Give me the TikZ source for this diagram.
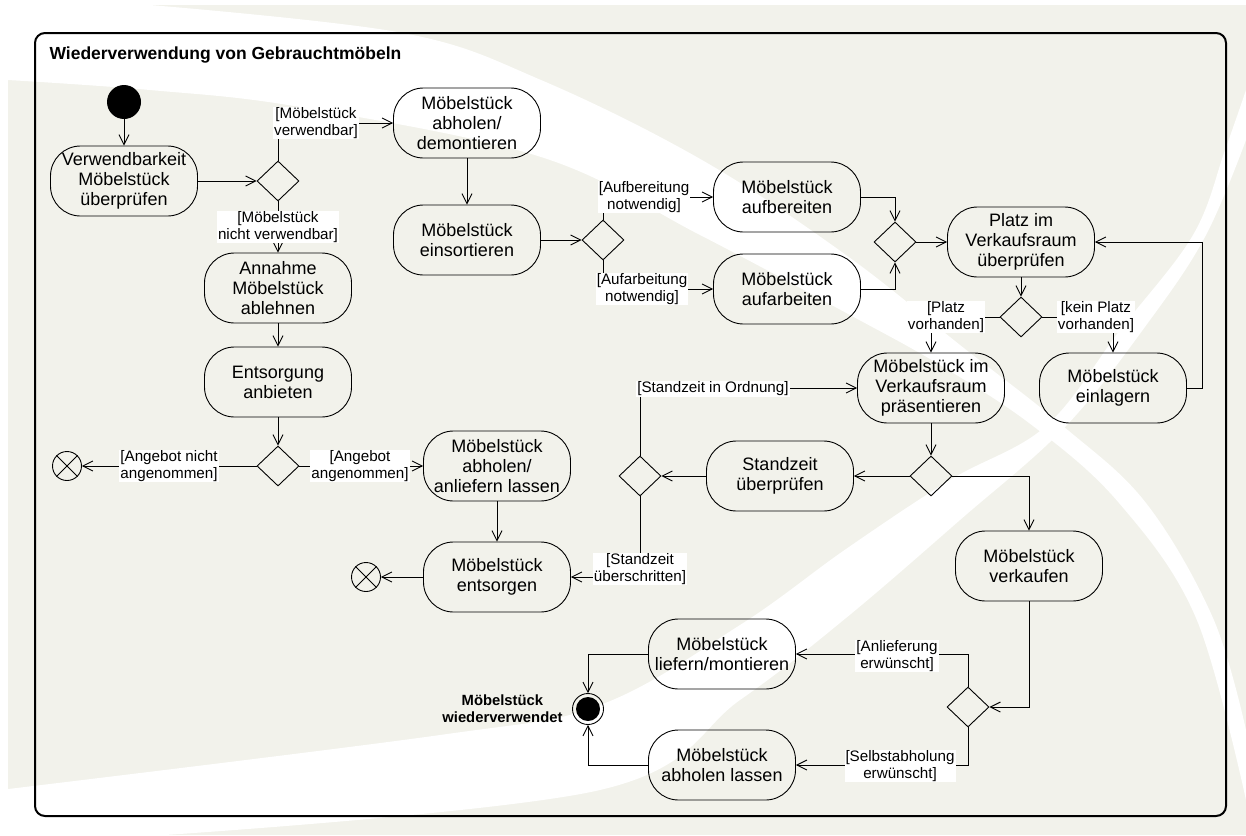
\documentclass[tikz,border=0pt]{standalone}
\usepackage{fontspec}
\setmainfont{Liberation Sans}
\usetikzlibrary{shapes.geometric,arrows.meta}
\definecolor{bgbeige}{RGB}{242,242,235}
\newcommand{\actfont}{\fontsize{18}{20}\selectfont}
\newcommand{\guardfont}{\fontsize{15.2}{16.8}\selectfont}
\begin{document}
\begin{tikzpicture}[x=1pt,y=-1pt,
  act/.style={draw, line width=0.9pt, rounded corners=30pt, minimum width=147pt, minimum height=70pt, inner sep=0pt, align=center, font=\actfont},
  dec/.style={draw, line width=0.9pt, diamond, minimum width=42pt, minimum height=40pt, inner sep=0pt},
  guard/.style={fill=white, inner sep=1pt, align=center, font=\guardfont},
  flow/.style={line width=0.9pt, -{Straight Barb[length=10pt,width=10pt]}},
  flowfinal/.style={draw, line width=0.9pt, circle, minimum size=29pt, inner sep=0pt}
]
% background
\useasboundingbox (0,0) rectangle (1246,835);
\fill[bgbeige] (0,0) rectangle (1246,835);
\fill[white] (0,0) -- (150,0) -- plot[smooth, tension=0.6] coordinates {(150,5) (403,33) (541,80) (702,160) (846,255) (960,345) (1063,426) (1146,503) (1213,618) (1246,730)} -- (1246,800) -- plot[smooth, tension=0.6] coordinates {(1246,800) (1196,618) (1119,503) (1033,426) (940,365) (850,315) (700,235) (541,157) (300,107) (150,90) (8,80)} -- (0,80) -- cycle;
\fill[white] plot[smooth, tension=0.6] coordinates {(0,790) (440,735) (600,705) (740,625) (846,549) (950,480) (1046,426) (1120,330) (1193,235) (1225,150) (1246,90)} -- (1246,140) -- plot[smooth, tension=0.6] coordinates {(1246,140) (1206,235) (1150,320) (1066,426) (960,520) (846,618) (740,700) (600,790) (165,835)} -- (0,835) -- cycle;
\fill[white] (0,0) rectangle (1246,5);
\fill[white] (0,0) rectangle (8,835);
% frame
\draw[line width=2pt, rounded corners=10pt] (35,33) rectangle (1226,816);
\node[anchor=west, font=\fontsize{17.5}{20}\selectfont\bfseries] (title) at (46,55) {Wiederverwendung von Gebrauchtmöbeln};

% nodes
\node[circle, fill=black, minimum size=34pt, inner sep=0pt] (start) at (124,102) {};
\node[act] (a1) at (124,181) {Verwendbarkeit\\Möbelstück\\überprüfen};
\node[dec] (d1) at (278,181) {};
\node[act] (a2) at (467,123) {Möbelstück\\abholen/\\demontieren};
\node[act] (a3) at (467,240) {Möbelstück\\einsortieren};
\node[dec] (d2) at (603,240) {};
\node[act] (a4) at (787,197) {Möbelstück\\aufbereiten};
\node[act] (a5) at (787,289) {Möbelstück\\aufarbeiten};
\node[dec] (d3) at (895,242) {};
\node[act] (a6) at (1021,242) {Platz im\\Verkaufsraum\\überprüfen};
\node[dec] (d4) at (1021,317) {};
\node[act] (a7) at (931,388) {Möbelstück im\\Verkaufsraum\\präsentieren};
\node[act] (a8) at (1113,388) {Möbelstück\\einlagern};
\coordinate (c8) at (1202,388);
\node[dec] (d5) at (931,476) {};
\node[act] (a9) at (780,476) {Standzeit\\überprüfen};
\node[dec] (d6) at (640,476) {};
\node[act] (a12) at (278,288) {Annahme\\Möbelstück\\ablehnen};
\node[act] (a13) at (278,382) {Entsorgung\\anbieten};
\node[dec] (d7) at (278,466) {};
\node[flowfinal] (ff1) at (67,466) {};
\node[act] (a11) at (497,466) {Möbelstück\\abholen/\\anliefern lassen};
\node[act] (a10) at (497,577) {Möbelstück\\entsorgen};
\node[flowfinal] (ff2) at (366,577) {};
\node[act] (a14) at (1029,566) {Möbelstück\\verkaufen};
\node[dec] (d8) at (968,707) {};
\node[act] (a15) at (722,654) {Möbelstück\\liefern/montieren};
\node[act] (a16) at (722,765) {Möbelstück\\abholen lassen};
\node[draw, line width=0.9pt, circle, minimum size=31pt, inner sep=0pt] (fin) at (588,709) {};
\node[circle, fill=black, minimum size=24pt, inner sep=0pt] (finin) at (fin) {};
\node[font=\fontsize{14.8}{17}\selectfont\bfseries, align=center, anchor=east] (finlabel) at (566,709) {Möbelstück\\wiederverwendet};

% flow final crosses
\draw[line width=0.9pt] (ff1.north east) -- (ff1.south west) (ff1.north west) -- (ff1.south east);
\draw[line width=0.9pt] (ff2.north east) -- (ff2.south west) (ff2.north west) -- (ff2.south east);

% connectors
\draw[flow] (start) -- (a1);
\draw[flow] (a1) -- (d1);
\draw[flow] (d1.north) |- (a2.west);
\draw[flow] (d1.south) -- (a12.north);
\draw[flow] (a2) -- (a3);
\draw[flow] (a3) -- (d2);
\draw[flow] (d2.north) |- (a4.west);
\draw[flow] (d2.south) |- (a5.west);
\draw[flow] (a4.east) -| (d3.north);
\draw[flow] (a5.east) -| (d3.south);
\draw[flow] (d3) -- (a6);
\draw[flow] (a6) -- (d4);
\draw[flow] (d4.west) -| (a7.north);
\draw[flow] (d4.east) -| (a8.north);
\draw[flow] (a8.east) -- (c8) |- (a6.east);
\draw[flow] (a7) -- (d5);
\draw[flow] (d5) -- (a9);
\draw[flow] (a9) -- (d6);
\draw[flow] (d6.north) |- (a7.west);
\draw[flow] (d6.south) |- (a10.east);
\draw[flow] (d5.east) -| (a14.north);
\draw[flow] (a14.south) |- (d8.east);
\draw[flow] (d8.north) |- (a15.east);
\draw[flow] (d8.south) |- (a16.east);
\draw[flow] (a15.west) -| (fin.north);
\draw[flow] (a16.west) -| (fin.south);
\draw[flow] (a12) -- (a13);
\draw[flow] (a13) -- (d7);
\draw[flow] (d7) -- (ff1);
\draw[flow] (d7) -- (a11);
\draw[flow] (a11) -- (a10);
\draw[flow] (a10) -- (ff2);

% guards
\node[guard] (g1) at (316,123) {[Möbelstück\\verwendbar]};
\node[guard] (g2) at (278,227) {[Möbelstück\\nicht verwendbar]};
\node[guard] (g3) at (644,197) {[Aufbereitung\\notwendig]};
\node[guard] (g4) at (642,289) {[Aufarbeitung\\notwendig]};
\node[guard] (g5) at (946,317) {[Platz\\vorhanden]};
\node[guard] (g6) at (1096,317) {[kein Platz\\vorhanden]};
\node[guard] (g7) at (713,389) {[Standzeit in Ordnung]};
\node[guard] (g8) at (640,569) {[Standzeit\\überschritten]};
\node[guard] (g9) at (169,466) {[Angebot nicht\\angenommen]};
\node[guard] (g10) at (360,466) {[Angebot\\angenommen]};
\node[guard] (g11) at (897,656) {[Anlieferung\\erwünscht]};
\node[guard] (g12) at (900,766) {[Selbstabholung\\erwünscht]};
\end{tikzpicture}
\end{document}
